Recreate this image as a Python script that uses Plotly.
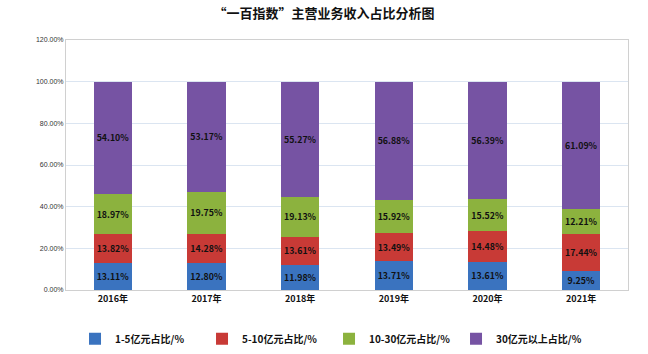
import plotly.graph_objects as go

years = ["2016年", "2017年", "2018年", "2019年", "2020年", "2021年"]
s1_name = "1-5亿元占比/%"
s2_name = "5-10亿元占比/%"
s3_name = "10-30亿元占比/%"
s4_name = "30亿元以上占比/%"
s1 = [13.11, 12.80, 11.98, 13.71, 13.61, 9.25]
s2 = [13.82, 14.28, 13.61, 13.49, 14.48, 17.44]
s3 = [18.97, 19.75, 19.13, 15.92, 15.52, 12.21]
s4 = [54.10, 53.17, 55.27, 56.88, 56.39, 61.09]

colors = ["#3a73bf", "#c83a36", "#8cb23e", "#7653a3"]
font_cjk = "Noto Sans CJK SC"

fig = go.Figure()
for name, vals, c in zip([s1_name, s2_name, s3_name, s4_name], [s1, s2, s3, s4], colors):
    fig.add_trace(go.Bar(
        x=years, y=vals, name=name,
        marker=dict(color=c, line=dict(width=0)),
        texttemplate="%{y:.2f}%", textposition="inside", insidetextanchor="middle",
        textfont=dict(family=font_cjk, size=9, color="#111111", weight="bold"),
        textangle=0,
    ))

fig.update_layout(
    barmode="stack", bargap=0.59,
    width=648, height=354,
    margin=dict(l=66, r=20, t=40, b=64, autoexpand=False),
    paper_bgcolor="white", plot_bgcolor="white",
    title=dict(text="“一百指数”主营业务收入占比分析图", x=0.5, xanchor="center", y=0.962, yanchor="middle",
               font=dict(family=font_cjk, size=13, color="#111111", weight="bold")),
    font=dict(family=font_cjk, color="#222222"),
    showlegend=True,
    legend=dict(orientation="h", x=0.468, xanchor="center", y=-0.195, yanchor="middle",
                font=dict(family=font_cjk, size=10, color="#111111", weight="bold"),
                entrywidth=82, entrywidthmode="pixels", traceorder="normal", itemwidth=30),
    uniformtext=dict(minsize=6, mode="show"),
)
fig.update_xaxes(showline=True, linecolor="#d0d0d0", mirror=True, ticks="",
                 tickfont=dict(family=font_cjk, size=9, color="#111111", weight="bold"))
fig.update_yaxes(range=[0, 120], dtick=20, tickformat=".2f", ticksuffix="%",
                 showgrid=True, gridcolor="#dbe5f1", gridwidth=1,
                 showline=True, linecolor="#d0d0d0", mirror=True, zeroline=False,
                 tickfont=dict(family="Liberation Sans", size=7, color="#333333"))

fig.write_html("out.html")
